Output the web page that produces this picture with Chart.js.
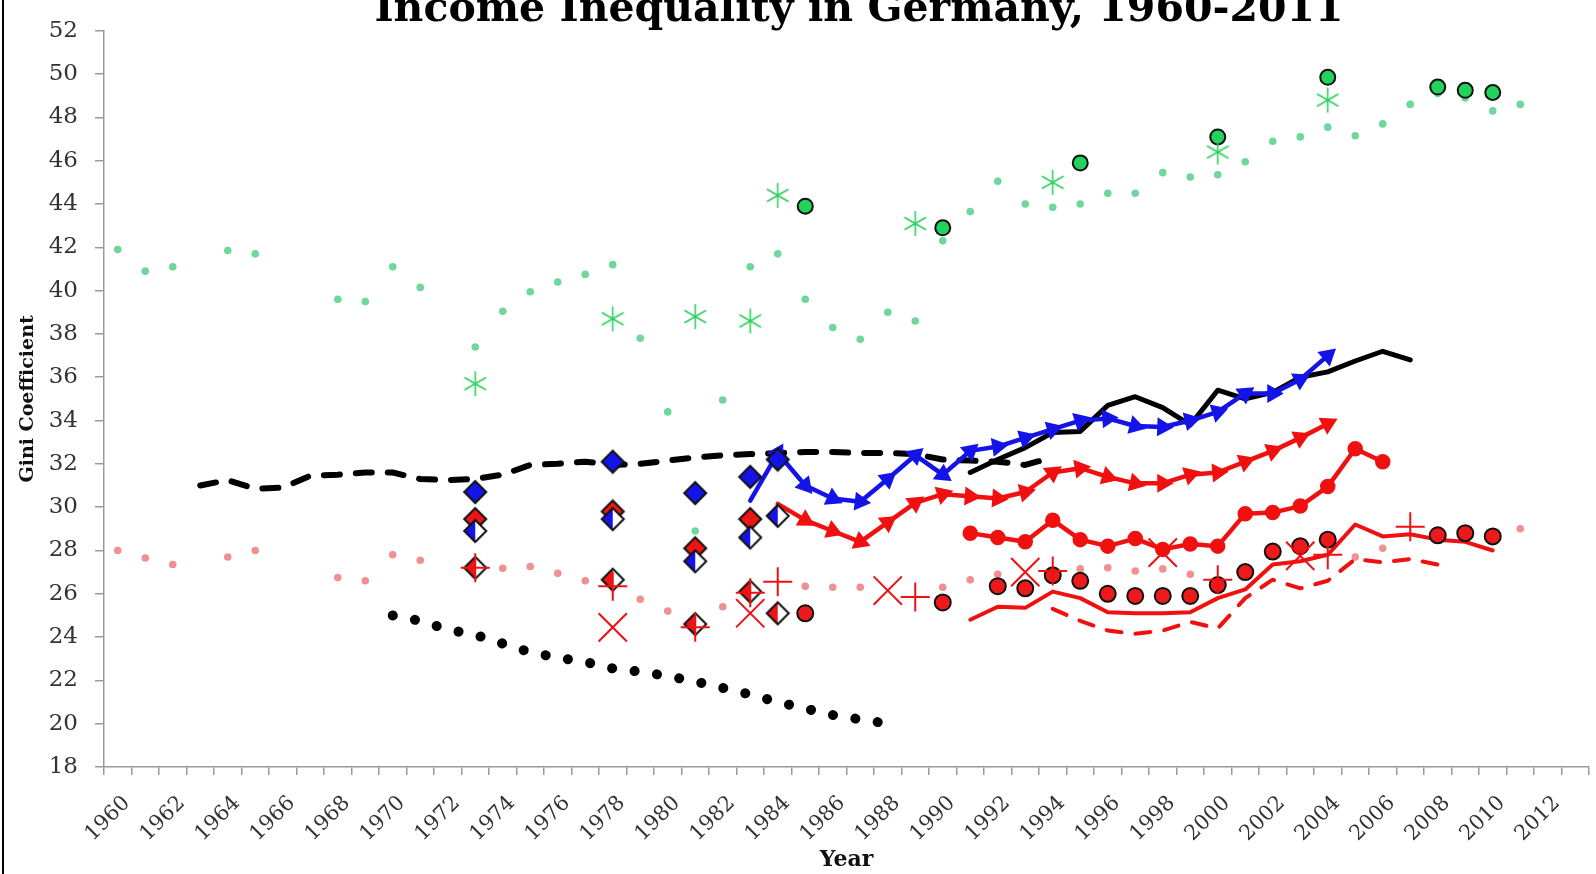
<!DOCTYPE html>
<html lang="en">
<head>
    <meta charset="UTF-8">
    <title>Income Inequality in Germany, 1960-2011</title>
    <script src="https://cdn.jsdelivr.net/npm/chart.js"></script>
    <style>
        body {
            margin: 0;
            padding: 0;
            background: #fff;
        }
        .frame {
            position: relative;
            width: 1596px;
            height: 874px;
            overflow: hidden;
        }
        .edge {
            position: absolute;
            left: 2px;
            top: 0;
            width: 2px;
            height: 874px;
            background: #000;
        }
    </style>
</head>
<body>
    <div class="frame">
        <canvas id="giniChart" width="1596" height="874"></canvas>
        <div class="edge"></div>
    </div>

    <script>
        // categories (one per year, labels shown every second year)
        const yearLabels = ['1960','1961','1962','1963','1964','1965','1966','1967','1968','1969',
            '1970','1971','1972','1973','1974','1975','1976','1977','1978','1979',
            '1980','1981','1982','1983','1984','1985','1986','1987','1988','1989',
            '1990','1991','1992','1993','1994','1995','1996','1997','1998','1999',
            '2000','2001','2002','2003','2004','2005','2006','2007','2008','2009',
            '2010','2011','2012','2013'];

        // small green dots
        const greenDotYears = [1960,1961,1962,1964,1965,1968,1969,1970,1971,1973,1974,1975,1976,1977,1978,1979,1980,1981,1982,1983,1984,1985,1986,1987,1988,1989,1990,1991,1992,1993,1994,1995,1996,1997,1998,1999,2000,2001,2002,2003,2004,2005,2006,2007,2008,2009,2010,2011];
        const greenDotVals = [41.9,40.9,41.1,41.85,41.7,39.6,39.5,41.1,40.15,37.4,39.05,39.95,40.4,40.75,41.2,37.8,34.4,28.9,34.95,41.1,41.7,39.6,38.3,37.75,39.0,38.6,42.3,43.65,45.05,44.0,43.85,44.0,44.5,44.5,45.45,45.25,45.35,45.95,46.9,47.1,47.55,47.15,47.7,48.6,49.1,48.9,48.3,48.6];

        // small pink dots
        const pinkDotYears = [1960,1961,1962,1964,1965,1968,1969,1970,1971,1973,1974,1975,1976,1977,1979,1980,1982,1985,1986,1987,1990,1991,1992,1995,1996,1997,1998,1999,2005,2006,2011];
        const pinkDotVals = [28.0,27.65,27.35,27.7,28.0,26.75,26.6,27.8,27.55,27.2,27.18,27.26,26.95,26.6,25.75,25.2,25.4,26.35,26.3,26.3,26.3,26.65,26.9,27.15,27.2,27.05,27.15,26.9,27.7,28.1,29.0];

        // green asterisks and green circles
        const greenStarYears = [1973,1978,1981,1983,1984,1989,1994,2000,2004];
        const greenStarVals = [35.7,38.7,38.8,38.6,44.4,43.1,45.0,46.4,48.8];
        const greenCircleYears = [1985,1990,1995,2000,2004,2008,2009,2010];
        const greenCircleVals = [43.9,42.9,45.9,47.1,49.85,49.4,49.25,49.15];

        // lines, as start year + consecutive yearly values
        const blackDashStart = 1963;
        const blackDashVals = [31.0,31.25,30.85,30.9,31.45,31.5,31.6,31.6,31.3,31.25,31.3,31.5,31.95,32.0,32.1,31.95,32.0,32.15,32.3,32.4,32.45,32.5,32.55,32.55,32.5,32.5,32.45,32.2,32.15,32.1,31.95,32.3];
        const blackSolidStart = 1991;
        const blackSolidVals = [31.6,32.2,32.75,33.45,33.5,34.7,35.1,34.6,33.8,35.4,35.0,35.3,36.0,36.25,36.75,37.2,36.8];
        const blackDotStart = 1970;
        const blackDotVals = [25.0,24.75,24.35,24.1,23.7,23.3,23.05,22.85,22.55,22.4,22.2,21.95,21.65,21.35,21.0,20.7,20.4,20.2,20.0];
        const blueArrowStart = 1983;
        const blueArrowVals = [30.3,32.5,31.0,30.4,30.25,31.3,32.4,31.5,32.6,32.8,33.2,33.6,34.0,34.1,33.75,33.7,34.0,34.4,35.25,35.25,35.9,37.0];
        const redArrowStart = 1984;
        const redArrowVals = [30.15,29.4,28.9,28.4,29.3,30.2,30.6,30.5,30.4,30.7,31.6,31.8,31.4,31.1,31.1,31.5,31.6,32.1,32.6,33.2,33.85];
        const redDotStart = 1991;
        const redDotVals = [28.8,28.6,28.4,29.4,28.5,28.2,28.55,28.05,28.3,28.2,29.7,29.75,30.05,30.95,32.7,32.1];
        const redSolidStart = 1991;
        const redSolidVals = [24.8,25.4,25.35,26.1,25.8,25.15,25.1,25.1,25.15,25.8,26.2,27.35,27.5,27.8,29.2,28.65,28.75,28.5,28.4,28.0];
        const redDashStart = 1994;
        const redDashVals = [25.3,24.75,24.3,24.15,24.3,24.7,24.4,25.8,26.65,26.25,26.6,27.6,27.45,27.6,27.35];

        // diamonds
        const blueDiamondYears = [1973,1978,1981,1983,1984];
        const blueDiamondVals = [30.7,32.1,30.65,31.4,32.2];
        const redDiamondYears = [1973,1978,1981,1983];
        const redDiamondVals = [29.45,29.8,28.1,29.45];
        const halfBlueYears = [1973,1978,1981,1983,1984];
        const halfBlueVals = [28.9,29.45,27.5,28.6,29.6];
        const halfRedYears = [1973,1978,1981,1983,1984];
        const halfRedVals = [27.2,26.65,24.6,26.1,25.1];

        // red crosses, red x's, red circles
        const redPlusYears = [1973,1978,1981,1983,1984,1989,1994,2000,2004,2007];
        const redPlusVals = [27.2,26.35,24.45,26.05,26.55,25.85,27.05,26.65,27.8,29.1];
        const redXYears = [1978,1983,1988,1993,1998,2003];
        const redXVals = [24.45,25.1,26.15,27.0,27.9,27.75];
        const redCircleYears = [1985,1990,1992,1993,1994,1995,1996,1997,1998,1999,2000,2001,2002,2003,2004,2008,2009,2010];
        const redCircleVals = [25.1,25.6,26.35,26.25,26.85,26.6,26.0,25.9,25.9,25.9,26.4,27.0,27.95,28.2,28.5,28.7,28.8,28.65];

        const RED = '#f01010';
        const BLUE = '#1414e8';
        const SERIF = "'DejaVu Serif', serif";

        function pts(years, vals) {
            return years.map((y, i) => ({ x: String(y), y: vals[i] }));
        }
        function run(start, vals) {
            return vals.map((v, i) => ({ x: String(start + i), y: v }));
        }

        // marker images
        function makeDiamond(left, right) {
            const r = 11, s = 2 * r + 4, c = document.createElement('canvas');
            c.width = s; c.height = s;
            const g = c.getContext('2d'), m = s / 2;
            g.beginPath(); g.moveTo(m, m - r); g.lineTo(m - r, m); g.lineTo(m, m + r); g.closePath();
            g.fillStyle = left; g.fill();
            g.beginPath(); g.moveTo(m, m - r); g.lineTo(m + r, m); g.lineTo(m, m + r); g.closePath();
            g.fillStyle = right; g.fill();
            g.beginPath(); g.moveTo(m, m - r); g.lineTo(m + r, m); g.lineTo(m, m + r); g.lineTo(m - r, m); g.closePath();
            g.lineWidth = 2; g.strokeStyle = '#111'; g.stroke();
            return c;
        }
        function makeAsterisk(color) {
            const r = 12.5, s = 2 * r + 4, c = document.createElement('canvas');
            c.width = s; c.height = s;
            const g = c.getContext('2d'), m = s / 2;
            g.strokeStyle = color; g.lineWidth = 1.6;
            g.beginPath();
            g.moveTo(m, m - r); g.lineTo(m, m + r);
            g.moveTo(m - r * 0.87, m - r * 0.5); g.lineTo(m + r * 0.87, m + r * 0.5);
            g.moveTo(m - r * 0.87, m + r * 0.5); g.lineTo(m + r * 0.87, m - r * 0.5);
            g.stroke();
            return c;
        }

        // turn triangle markers along the line
        function arrowRotation(ctx) {
            const chart = ctx.chart, i = ctx.dataIndex, data = ctx.dataset.data;
            const xs = chart.scales.x, ys = chart.scales.y;
            if (!xs || !ys || !data[i]) return 90;
            const a = data[i > 0 ? i - 1 : i], b = data[i > 0 ? i : i + 1];
            if (!a || !b) return 90;
            const step = xs.getPixelForValue(1) - xs.getPixelForValue(0);
            const dx = (+b.x - +a.x) * step;
            const dy = ys.getPixelForValue(b.y) - ys.getPixelForValue(a.y);
            return Math.atan2(dy, dx) * 180 / Math.PI + 90;
        }

        function markers(data, style, extra) {
            return Object.assign({
                data: data,
                showLine: false,
                pointStyle: style,
                pointRadius: 8,
                pointHoverRadius: 8,
                pointBorderWidth: 0
            }, extra);
        }
        function line(data, color, width, extra) {
            return Object.assign({
                data: data,
                borderColor: color,
                borderWidth: width,
                pointRadius: 0,
                pointHoverRadius: 0,
                tension: 0,
                borderJoinStyle: 'round',
                borderCapStyle: 'round',
                spanGaps: true
            }, extra);
        }

        const topTitle = {
            id: 'topTitle',
            afterDraw(chart) {
                const c = chart.ctx;
                c.save();
                c.font = "bold 41px " + SERIF;
                c.fillStyle = '#000';
                c.textAlign = 'center';
                c.textBaseline = 'alphabetic';
                c.fillText('Income Inequality in Germany, 1960-2011', 859, 21);
                c.restore();
            }
        };

        const datasets = [
            markers(pts(redPlusYears, redPlusVals), 'cross', { pointRadius: 14.5, pointBorderColor: RED, pointBorderWidth: 2 }),
            markers(pts(redXYears, redXVals), 'crossRot', { pointRadius: 20, pointBorderColor: RED, pointBorderWidth: 2 }),
            markers(pts(greenStarYears, greenStarVals), makeAsterisk('#2fcf5e')),
            markers(pts(greenCircleYears, greenCircleVals), 'circle', { pointRadius: 7.5, pointBackgroundColor: '#22d35b', pointBorderColor: '#111', pointBorderWidth: 2 }),
            markers(pts(redCircleYears, redCircleVals), 'circle', { pointRadius: 8, pointBackgroundColor: '#ec1a1a', pointBorderColor: '#111', pointBorderWidth: 2 }),
            markers(pts(halfRedYears, halfRedVals), makeDiamond('#ee1515', '#ffffff')),
            markers(pts(halfBlueYears, halfBlueVals), makeDiamond(BLUE, '#ffffff')),
            markers(pts(redDiamondYears, redDiamondVals), makeDiamond('#ee1515', '#ee1515')),
            markers(pts(blueDiamondYears, blueDiamondVals), makeDiamond(BLUE, BLUE)),
            line(run(blueArrowStart, blueArrowVals), BLUE, 4.5, {
                pointStyle: 'triangle', pointRadius: ctx => ctx.dataIndex === 0 ? 0 : 6.5,
                pointBackgroundColor: BLUE, pointBorderColor: BLUE, pointRotation: arrowRotation
            }),
            line(run(redArrowStart, redArrowVals), RED, 4.5, {
                pointStyle: 'triangle', pointRadius: ctx => ctx.dataIndex === 0 ? 0 : 6.5,
                pointBackgroundColor: RED, pointBorderColor: RED, pointRotation: arrowRotation
            }),
            line(run(redDotStart, redDotVals), RED, 4.5, {
                pointStyle: 'circle', pointRadius: 5.5, pointBackgroundColor: RED, pointBorderColor: RED
            }),
            line(run(blackSolidStart, blackSolidVals), '#000', 5),
            line(run(blackDashStart, blackDashVals), '#000', 6, { borderDash: [16, 16] }),
            line(run(redSolidStart, redSolidVals), RED, 4),
            line(run(redDashStart, redDashVals), RED, 4, { borderDash: [15, 14] }),
            line(run(blackDotStart, blackDotVals), '#000', 10, { borderDash: [0.1, 22.5] }),
            markers(pts(greenDotYears, greenDotVals), 'circle', { pointRadius: 3.8, pointBackgroundColor: '#6fd79b' }),
            markers(pts(pinkDotYears, pinkDotVals), 'circle', { pointRadius: 3.8, pointBackgroundColor: '#f09090' })
        ];

        new Chart(document.getElementById('giniChart'), {
            type: 'line',
            data: { labels: yearLabels, datasets: datasets },
            plugins: [topTitle],
            options: {
                responsive: false,
                devicePixelRatio: 1,
                animation: false,
                layout: { autoPadding: false, padding: { top: 26, right: 7, left: 0, bottom: 0 } },
                plugins: {
                    legend: { display: false },
                    tooltip: { enabled: false },
                    title: { display: false }
                },
                scales: {
                    x: {
                        type: 'category',
                        offset: true,
                        grid: { offset: true, drawOnChartArea: false, tickLength: 8, color: '#9a9a9a', lineWidth: 1.5 },
                        border: { color: '#9a9a9a', width: 1.5 },
                        ticks: {
                            autoSkip: false,
                            minRotation: 45,
                            maxRotation: 45,
                            padding: 16,
                            labelOffset: 9,
                            color: '#333',
                            font: { family: SERIF, size: 21 },
                            callback: function (value) {
                                const l = this.getLabelForValue(value);
                                return (+l) % 2 === 0 ? l : '';
                            }
                        },
                        title: {
                            display: true,
                            text: 'Year',
                            color: '#111',
                            font: { family: SERIF, size: 22, weight: 'bold' },
                            padding: { top: 0, bottom: 1 }
                        },
                        afterFit: s => { s.height = 107; s.paddingRight = 0; }
                    },
                    y: {
                        min: 18,
                        max: 52,
                        grid: { drawOnChartArea: false, tickLength: 9, color: '#9a9a9a', lineWidth: 1.5 },
                        border: { color: '#9a9a9a', width: 1.5 },
                        ticks: {
                            stepSize: 2,
                            padding: 17,
                            color: '#333',
                            font: { family: SERIF, size: 23 }
                        },
                        title: {
                            display: true,
                            text: 'Gini Coefficient',
                            color: '#111',
                            font: { family: SERIF, size: 19, weight: 'bold' },
                            padding: { top: 17, bottom: 0 }
                        },
                        afterFit: s => { s.width = 104; }
                    }
                }
            }
        });
    </script>
</body>
</html>
